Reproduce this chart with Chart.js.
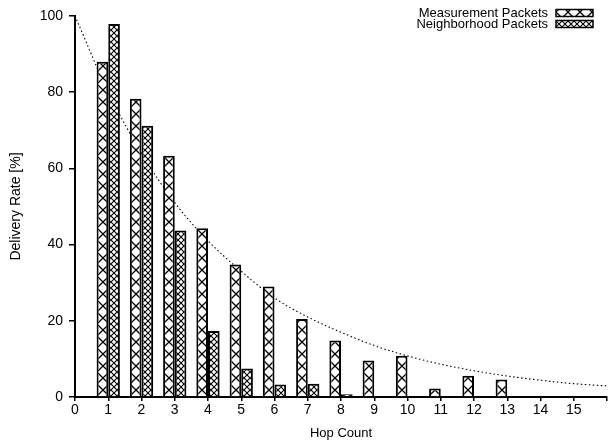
<!DOCTYPE html>
<html>
<head>
<meta charset="utf-8">
<script src="https://cdn.jsdelivr.net/npm/chart.js@4.4.1/dist/chart.umd.min.js"></script>
<style>
  html, body { margin: 0; padding: 0; background: #fff; }
  #rate-canvas { display: block; }
</style>
</head>
<body>
<canvas id="rate-canvas" width="608" height="441"></canvas>
<script>
// hop counts and delivery rates per packet type
const hopCounts = [1, 2, 3, 4, 5, 6, 7, 8, 9, 10, 11, 12, 13, 14, 15];
const measurementRate = [88, 78.3, 63.3, 44.3, 34.8, 29, 20.5, 14.8, 9.6, 10.8, 2.2, 5.6, 4.6, 0, 0];
const neighborhoodRate = [97.9, 71.2, 43.7, 17.3, 7.5, 3.3, 3.5, 0.7, 0, 0, 0, 0, 0, 0, 0];

// reference curve (dotted)
const curveHops = [0, 1, 2, 3, 4, 5, 6, 7, 8, 9, 10, 11, 12, 13, 14, 15, 16];
const curveRate = [100, 80, 64, 51, 41, 33, 26, 21, 17, 13.5, 10.8, 8.6, 6.9, 5.5, 4.4, 3.5, 2.9];

const seriesLabels = ['Measurement Packets', 'Neighborhood Packets'];
const xTicksShown = [0, 1, 2, 3, 4, 5, 6, 7, 8, 9, 10, 11, 12, 13, 14, 15];

const FONT = "'Liberation Sans', Arial, Helvetica, sans-serif";
Chart.defaults.font.family = FONT;
Chart.defaults.font.size = 13;
Chart.defaults.color = '#000';

// crosshatch tile: white square with both diagonals
function hatchTile(size, lw) {
  const c = document.createElement('canvas');
  c.width = size;
  c.height = size;
  const g = c.getContext('2d');
  g.fillStyle = '#fff';
  g.fillRect(0, 0, size, size);
  g.strokeStyle = '#000';
  g.lineWidth = lw;
  g.beginPath();
  g.moveTo(-1, -1); g.lineTo(size + 1, size + 1);
  g.moveTo(size + 1, -1); g.lineTo(-1, size + 1);
  g.stroke();
  return c;
}

const tiles = [hatchTile(12, 1.3), hatchTile(6, 1.1)];
// shift of each pattern inside its bar
const tileShift = [0, 3];
const ctx = document.getElementById('rate-canvas').getContext('2d');

function patternAt(i, left) {
  const p = ctx.createPattern(tiles[i], 'repeat');
  p.setTransform(new DOMMatrix().translateSelf(left + tileShift[i], 0));
  return p;
}

// keep each bar's hatching lined up with its left edge
function barFill(c) {
  const i = c.datasetIndex;
  if (c.type !== 'data' || !c.parsed) return patternAt(i, 0);
  const xs = c.chart.scales.x;
  const unit = xs.getPixelForValue(1) - xs.getPixelForValue(0);
  const left = xs.getPixelForValue(c.parsed.x) - 0.35 * unit + i * 0.35 * unit;
  return patternAt(i, Math.round(left));
}

// gnuplot style key, text right aligned with the sample box after it
const keyPlugin = {
  id: 'hatchKey',
  afterDraw(chart) {
    const g = chart.ctx;
    const textRight = 548, boxLeft = 556, boxW = 37, boxH = 7;
    const rows = [13, 24];
    g.save();
    g.font = '13px ' + FONT;
    g.textAlign = 'right';
    g.textBaseline = 'middle';
    g.fillStyle = '#000';
    chart.data.datasets.slice(0, 2).forEach((ds, i) => {
      const y = rows[i];
      g.fillText(ds.label, textRight, y);
      g.fillStyle = patternAt(i, boxLeft);
      g.fillRect(boxLeft, y - boxH / 2, boxW, boxH);
      g.strokeStyle = '#000';
      g.lineWidth = 1.5;
      g.strokeRect(boxLeft, y - boxH / 2, boxW, boxH);
      g.fillStyle = '#000';
    });
    g.restore();
  }
};

new Chart(ctx, {
  type: 'bar',
  data: {
    datasets: [
      {
        label: seriesLabels[0],
        data: hopCounts.map((h, i) => ({ x: h, y: measurementRate[i] })),
        backgroundColor: barFill,
        borderColor: '#000',
        borderWidth: 2,
        categoryPercentage: 0.7,
        barPercentage: 1,
        order: 1
      },
      {
        label: seriesLabels[1],
        data: hopCounts.map((h, i) => ({ x: h, y: neighborhoodRate[i] })),
        backgroundColor: barFill,
        borderColor: '#000',
        borderWidth: 2,
        categoryPercentage: 0.7,
        barPercentage: 1,
        order: 1
      },
      {
        type: 'line',
        label: 'curve',
        data: curveHops.map((h, i) => ({ x: h, y: curveRate[i] })),
        borderColor: '#000',
        borderWidth: 1.1,
        borderDash: [1.5, 2.5],
        pointRadius: 0,
        cubicInterpolationMode: 'monotone',
        fill: false,
        order: 2
      }
    ]
  },
  plugins: [keyPlugin],
  options: {
    responsive: false,
    animation: false,
    devicePixelRatio: 1,
    layout: { padding: { top: 16, right: 0, left: 0, bottom: 0 } },
    plugins: {
      legend: { display: false },
      tooltip: { enabled: false }
    },
    scales: {
      x: {
        type: 'linear',
        min: 0,
        max: 16,
        offset: false,
        border: { display: true, color: '#000', width: 2 },
        grid: { offset: false, drawOnChartArea: false, drawTicks: true, tickLength: 4, color: '#000', lineWidth: 1.5 },
        ticks: {
          stepSize: 1,
          autoSkip: false,
          maxRotation: 0,
          padding: 1,
          font: { size: 14 },
          callback: (v) => (xTicksShown.includes(v) ? String(v) : '')
        },
        title: { display: true, text: 'Hop Count', padding: { top: 0, bottom: 0 } },
        afterFit: (s) => { s.height = 44; }
      },
      y: {
        min: 0,
        max: 100,
        border: { display: true, color: '#000', width: 2 },
        grid: { drawOnChartArea: false, drawTicks: true, tickLength: 6, color: '#000', lineWidth: 1.5 },
        ticks: { stepSize: 20, padding: 6, font: { size: 14 } },
        title: { display: true, text: 'Delivery Rate [%]', font: { size: 14 }, padding: { top: 8, bottom: 0 } },
        afterFit: (s) => { s.width = 75; }
      }
    }
  }
});
</script>
</body>
</html>
